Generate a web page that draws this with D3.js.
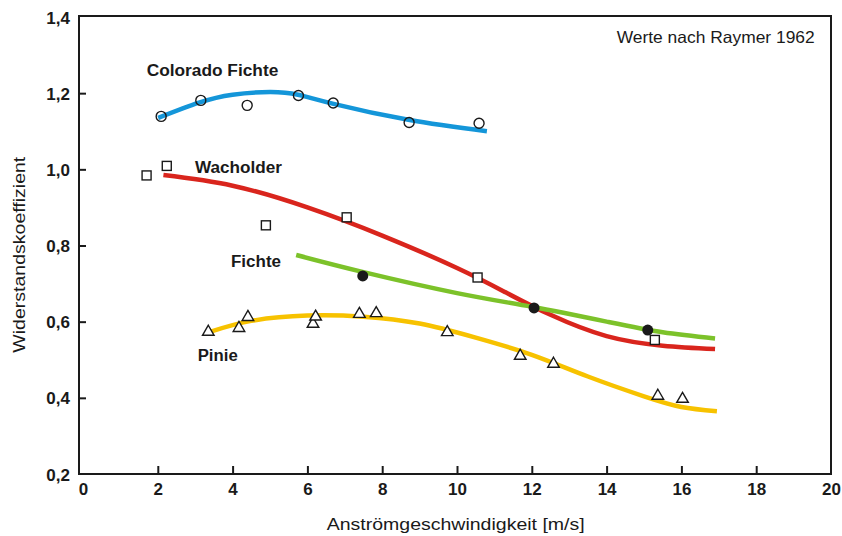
<!DOCTYPE html>
<html>
<head>
<meta charset="utf-8">
<script src="https://cdn.jsdelivr.net/npm/d3@7"></script>
<style>
  body { margin: 0; background: #fff; }
  text { font-family: "Liberation Sans", Arial, sans-serif; fill: #1a1a1a; }
</style>
</head>
<body>
<svg id="chart" width="842" height="536"></svg>
<script>
// ---- data ----
const xTicks = [0, 2, 4, 6, 8, 10, 12, 14, 16, 18, 20];
const yTicks = [0.2, 0.4, 0.6, 0.8, 1.0, 1.2, 1.4];

// measured points
const coloradoX = [2.09, 3.15, 4.39, 5.76, 6.69, 8.72, 10.59];
const coloradoY = [1.139, 1.181, 1.168, 1.194, 1.174, 1.123, 1.121];

const wacholderX = [1.70, 2.24, 4.89, 7.05, 10.55, 15.29];
const wacholderY = [0.984, 1.009, 0.853, 0.874, 0.716, 0.552];

const fichteX = [7.48, 12.06, 15.10];
const fichteY = [0.720, 0.636, 0.578];

const pinieX = [3.35, 4.17, 4.41, 6.15, 6.22, 7.39, 7.84, 9.74, 11.69, 12.58, 15.37, 16.03];
const pinieY = [0.573, 0.583, 0.612, 0.594, 0.613, 0.620, 0.622, 0.572, 0.510, 0.489, 0.405, 0.397];

// fitted curves (knots)
const coloradoCurveX = [2.01, 3.1, 4.0, 5.0, 5.75, 6.7, 8.7, 10.8];
const coloradoCurveY = [1.135, 1.175, 1.196, 1.203, 1.196, 1.172, 1.130, 1.100];

const wacholderCurveX = [2.15, 4.0, 6.0, 8.0, 10.0, 11.3, 12.5, 14.0, 15.5, 16.9];
const wacholderCurveY = [0.985, 0.957, 0.900, 0.826, 0.741, 0.677, 0.618, 0.562, 0.537, 0.528];

const fichteCurveX = [5.7, 7.5, 10.0, 12.0, 14.0, 15.5, 16.9];
const fichteCurveY = [0.775, 0.730, 0.675, 0.639, 0.600, 0.572, 0.556];

const pinieCurveX = [3.35, 4.5, 6.0, 7.5, 9.0, 10.5, 12.0, 13.5, 15.0, 16.0, 16.95];
const pinieCurveY = [0.572, 0.602, 0.616, 0.613, 0.595, 0.558, 0.513, 0.456, 0.404, 0.376, 0.365];

const seriesNames = ["Colorado Fichte", "Wacholder", "Fichte", "Pinie"];
const xTitle = "Anströmgeschwindigkeit [m/s]";
const yTitle = "Widerstandskoeffizient";
const note = "Werte nach Raymer 1962";

// ---- layout ----
const svg = d3.select("#chart");
const pL = 79, pR = 831, pT = 16, pB = 474;
const x = d3.scaleLinear().domain([0, 20]).range([83, 831]);
const y = d3.scaleLinear().domain([0.2, 1.4]).range([474, 17]);

const fmt = d => d3.format(".1f")(d).replace(".", ",");

// frame
svg.append("rect")
  .attr("x", pL).attr("y", pT)
  .attr("width", pR - pL).attr("height", pB - pT)
  .attr("fill", "none").attr("stroke", "#1a1a1a").attr("stroke-width", 2);

// x axis
const xAxis = svg.append("g").attr("transform", `translate(0,${pB})`)
  .call(d3.axisTop(x).tickValues(xTicks).tickSize(8).tickFormat(d3.format("d")));
xAxis.select(".domain").remove();
xAxis.selectAll(".tick line").attr("stroke", "#1a1a1a").attr("stroke-width", 2)
  .filter(d => d === 0 || d === 20).remove();
xAxis.selectAll(".tick text")
  .attr("y", 21).attr("dy", 0)
  .attr("font-size", 17).attr("font-weight", "bold")
  .style("font-family", "'Liberation Sans', Arial, sans-serif").attr("fill", "#1a1a1a");

// y axis
const yAxis = svg.append("g").attr("transform", `translate(${pL},0)`)
  .call(d3.axisRight(y).tickValues(yTicks).tickSize(7).tickFormat(fmt));
yAxis.select(".domain").remove();
yAxis.selectAll(".tick line").attr("stroke", "#1a1a1a").attr("stroke-width", 2)
  .filter(d => d === 0.2 || d === 1.4).remove();
yAxis.selectAll(".tick text")
  .attr("x", -9).attr("dy", "0.36em").attr("text-anchor", "end")
  .attr("font-size", 17).attr("font-weight", "bold")
  .style("font-family", "'Liberation Sans', Arial, sans-serif").attr("fill", "#1a1a1a");

// curves
const line = d3.line().x(d => x(d[0])).y(d => y(d[1])).curve(d3.curveNatural);
const curves = [
  { xs: coloradoCurveX, ys: coloradoCurveY, color: "#1496d9" },
  { xs: wacholderCurveX, ys: wacholderCurveY, color: "#d9251d" },
  { xs: fichteCurveX, ys: fichteCurveY, color: "#7cc22a" },
  { xs: pinieCurveX, ys: pinieCurveY, color: "#f7c200" }
];
curves.forEach(c => {
  svg.append("path")
    .datum(c.xs.map((v, i) => [v, c.ys[i]]))
    .attr("d", line)
    .attr("fill", "none").attr("stroke", c.color)
    .attr("stroke-width", 4.5).attr("stroke-linecap", "butt");
});

// markers
const zip = (xs, ys) => xs.map((v, i) => [v, ys[i]]);
svg.append("g").selectAll("circle").data(zip(coloradoX, coloradoY)).join("circle")
  .attr("cx", d => x(d[0])).attr("cy", d => y(d[1])).attr("r", 5)
  .attr("fill", "none").attr("stroke", "#1a1a1a").attr("stroke-width", 1.4);

svg.append("g").selectAll("rect").data(zip(wacholderX, wacholderY)).join("rect")
  .attr("x", d => x(d[0]) - 4.5).attr("y", d => y(d[1]) - 4.5)
  .attr("width", 9).attr("height", 9)
  .attr("fill", "#fff").attr("stroke", "#1a1a1a").attr("stroke-width", 1.4);

svg.append("g").selectAll("circle").data(zip(fichteX, fichteY)).join("circle")
  .attr("cx", d => x(d[0])).attr("cy", d => y(d[1])).attr("r", 5.5)
  .attr("fill", "#1a1a1a");

const tri = d3.symbol().type(d3.symbolTriangle).size(58);
svg.append("g").selectAll("path").data(zip(pinieX, pinieY)).join("path")
  .attr("transform", d => `translate(${x(d[0])},${y(d[1])})`)
  .attr("d", tri)
  .attr("fill", "#fff").attr("stroke", "#1a1a1a").attr("stroke-width", 1.4);

// series labels
const labelPos = [
  { x: 146.7, y: 76, w: 131.6 },
  { x: 195, y: 172.7, w: 87 },
  { x: 231, y: 267.3, w: 50 },
  { x: 197.7, y: 360.7, w: 40 }
];
seriesNames.forEach((n, i) => {
  svg.append("text").attr("x", labelPos[i].x).attr("y", labelPos[i].y)
    .attr("font-size", 16).attr("font-weight", "bold")
    .attr("textLength", labelPos[i].w).attr("lengthAdjust", "spacingAndGlyphs")
    .text(n);
});

// note
svg.append("text").attr("x", 616.7).attr("y", 42.7)
  .attr("font-size", 16.5)
  .attr("textLength", 198).attr("lengthAdjust", "spacingAndGlyphs")
  .text(note);

// axis titles
svg.append("text").attr("x", 326.7).attr("y", 530)
  .attr("font-size", 17)
  .attr("textLength", 258).attr("lengthAdjust", "spacingAndGlyphs")
  .text(xTitle);

svg.append("text")
  .attr("transform", "translate(25,352.7) rotate(-90)")
  .attr("x", 0).attr("y", 0)
  .attr("font-size", 17)
  .attr("textLength", 196).attr("lengthAdjust", "spacingAndGlyphs")
  .text(yTitle);
</script>
</body>
</html>
